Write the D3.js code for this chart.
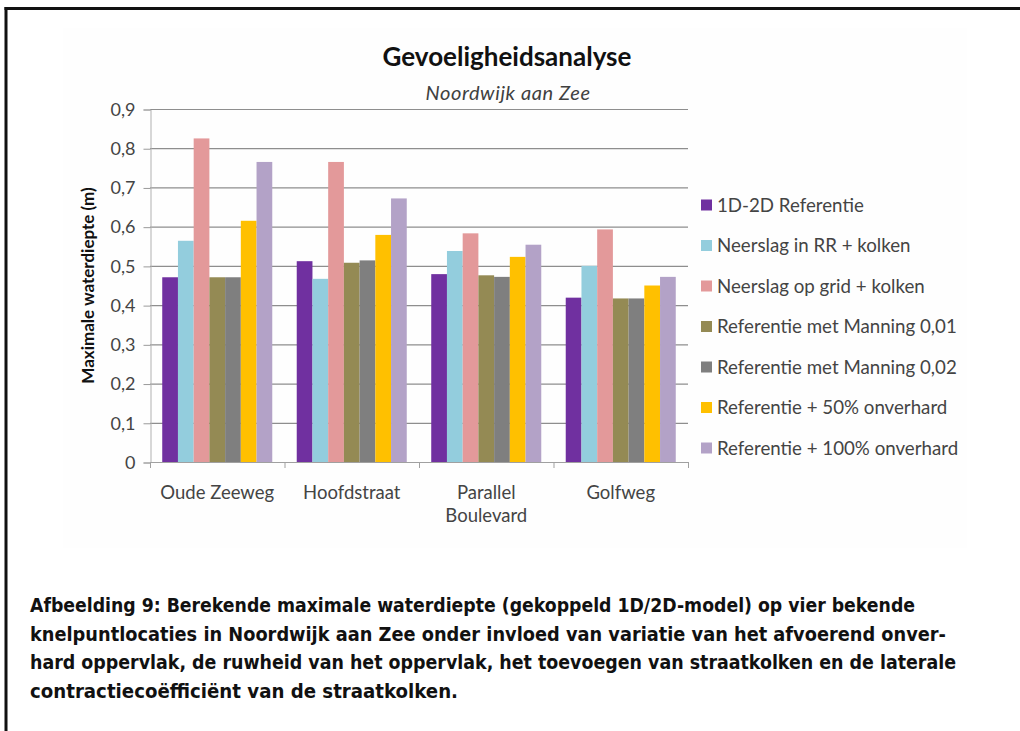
<!DOCTYPE html>
<html>
<head>
<meta charset="utf-8">
<script src="https://d3js.org/d3.v7.min.js"></script>
<style>
  body { margin: 0; background: #fff; }
  svg { display: block; }
</style>
</head>
<body>
<div id="chart"></div>
<script>
var categories = ["Oude Zeeweg", "Hoofdstraat", "Parallel Boulevard", "Golfweg"];
var seriesNames = [
    "1D-2D Referentie",
    "Neerslag in RR + kolken",
    "Neerslag op grid + kolken",
    "Referentie met Manning 0,01",
    "Referentie met Manning 0,02",
    "Referentie + 50% onverhard",
    "Referentie + 100% onverhard"
];
var seriesColors = ["#7030a0", "#93cddd", "#e3999a", "#948a54", "#7f7f7f", "#ffc000", "#b3a2c7"];
// one array per series, values per category
var ref1d2d   = [0.471, 0.512, 0.479, 0.419];
var rrKolken  = [0.564, 0.467, 0.538, 0.500];
var gridKolk  = [0.825, 0.765, 0.583, 0.593];
var manning01 = [0.471, 0.508, 0.476, 0.417];
var manning02 = [0.471, 0.514, 0.472, 0.417];
var onverh50  = [0.615, 0.579, 0.523, 0.450];
var onverh100 = [0.765, 0.672, 0.554, 0.472];
var seriesValues = [ref1d2d, rrKolken, gridKolk, manning01, manning02, onverh50, onverh100];
var yTicks = [0, 0.1, 0.2, 0.3, 0.4, 0.5, 0.6, 0.7, 0.8, 0.9];
var captionLines = [
    "Afbeelding 9: Berekende maximale waterdiepte (gekoppeld 1D/2D-model) op vier bekende",
    "knelpuntlocaties in Noordwijk aan Zee onder invloed van variatie van het afvoerend onver-",
    "hard oppervlak, de ruwheid van het oppervlak, het toevoegen van straatkolken en de laterale",
    "contractiecoëfficiënt van de straatkolken."
];
var captionWidths = [885, 916, 926, 428];

var W = 1020, H = 731;
var font = "Lato, 'Open Sans', sans-serif";
var svg = d3.select("#chart").append("svg")
    .attr("width", W)
    .attr("height", H);

svg.append("rect").attr("width", W).attr("height", H).attr("fill", "#fff");

// pasted chart area is a hair off-white
svg.append("rect")
    .attr("x", 63).attr("y", 28)
    .attr("width", 904).attr("height", 520)
    .attr("fill", "#fefefe");

// frame (only top and left edge are visible)
svg.append("line")
    .attr("x1", 4.5).attr("x2", W).attr("y1", 8.5).attr("y2", 8.5)
    .attr("stroke", "#111").attr("stroke-width", 3);
svg.append("line")
    .attr("x1", 6).attr("x2", 6).attr("y1", 7).attr("y2", H)
    .attr("stroke", "#111").attr("stroke-width", 3);

var plotLeft = 150, plotRight = 688, plotTop = 109, plotBottom = 462;

var x0 = d3.scaleBand()
    .domain(categories)
    .range([plotLeft, plotRight])
    .paddingInner(0.182)
    .paddingOuter(0.091);
var x1 = d3.scaleBand()
    .domain(d3.range(seriesNames.length))
    .range([0, x0.bandwidth()]);
var y = d3.scaleLinear().domain([0, 0.9]).range([plotBottom, plotTop]);

// gridlines
svg.append("g").selectAll("line")
    .data(yTicks.filter(function(d) { return d > 0; }))
    .join("line")
    .attr("x1", plotLeft).attr("x2", plotRight)
    .attr("y1", function(d) { return y(d) + 0.5; })
    .attr("y2", function(d) { return y(d) + 0.5; })
    .attr("stroke", "#8e8e8e")
    .attr("stroke-width", 1.2);

// y axis
var yAxis = d3.axisLeft(y)
    .tickValues(yTicks)
    .tickSize(7)
    .tickPadding(8)
    .tickFormat(function(d) { return d === 0 ? "0" : d3.format(".1f")(d).replace(".", ","); });
var gy = svg.append("g")
    .attr("transform", "translate(" + (plotLeft + 0.5) + ",0.5)")
    .call(yAxis);
gy.select(".domain").attr("stroke", "#b0b0b0");
gy.selectAll(".tick line").attr("stroke", "#9a9a9a");
gy.selectAll(".tick text")
    .attr("font-family", font)
    .attr("font-size", 18)
    .attr("fill", "#444");

// x axis: ticks between categories
svg.append("line")
    .attr("x1", plotLeft).attr("x2", plotRight)
    .attr("y1", plotBottom + 0.5).attr("y2", plotBottom + 0.5)
    .attr("stroke", "#a0a0a0");
var step = x0.step();
svg.append("g").selectAll("line")
    .data(d3.range(categories.length + 1))
    .join("line")
    .attr("x1", function(i) { return plotLeft + i * step + 0.5; })
    .attr("x2", function(i) { return plotLeft + i * step + 0.5; })
    .attr("y1", plotBottom).attr("y2", plotBottom + 6)
    .attr("stroke", "#a0a0a0");

// bars
var groups = svg.append("g").selectAll("g")
    .data(categories)
    .join("g")
    .attr("transform", function(d) { return "translate(" + x0(d) + ",0)"; });
groups.selectAll("rect")
    .data(function(d, ci) {
        return seriesValues.map(function(vals, si) { return { s: si, v: vals[ci] }; });
    })
    .join("rect")
    .attr("x", function(d) { return x1(d.s); })
    .attr("width", x1.bandwidth())
    .attr("y", function(d) { return y(d.v); })
    .attr("height", function(d) { return plotBottom - y(d.v); })
    .attr("fill", function(d) { return seriesColors[d.s]; });

// category labels, long name wraps on two lines
svg.append("g").selectAll("text")
    .data(categories)
    .join("text")
    .attr("x", function(d) { return x0(d) + x0.bandwidth() / 2; })
    .attr("y", 499)
    .attr("text-anchor", "middle")
    .attr("font-family", font)
    .attr("font-size", 18.5)
    .attr("fill", "#444")
    .each(function(d) {
        var words = d === "Parallel Boulevard" ? ["Parallel", "Boulevard"] : [d];
        var t = d3.select(this);
        words.forEach(function(w, i) {
            t.append("tspan")
                .attr("x", t.attr("x"))
                .attr("dy", i === 0 ? 0 : 23)
                .text(w);
        });
    });

// y axis title
svg.append("text")
    .attr("transform", "translate(94," + ((plotTop + plotBottom) / 2) + ") rotate(-90)")
    .attr("text-anchor", "middle")
    .attr("font-family", font)
    .attr("font-weight", "bold")
    .attr("font-size", 17)
    .attr("fill", "#111")
    .text("Maximale waterdiepte (m)");

// titles
svg.append("text")
    .attr("x", 507).attr("y", 66)
    .attr("text-anchor", "middle")
    .attr("font-family", font)
    .attr("font-weight", "bold")
    .attr("font-size", 26)
    .attr("fill", "#111")
    .text("Gevoeligheidsanalyse");
svg.append("text")
    .attr("x", 508).attr("y", 100)
    .attr("text-anchor", "middle")
    .attr("font-family", font)
    .attr("font-style", "italic")
    .attr("font-size", 20)
    .attr("letter-spacing", 0.6)
    .attr("fill", "#404040")
    .text("Noordwijk aan Zee");

// legend
var legend = svg.append("g").selectAll("g")
    .data(seriesNames)
    .join("g")
    .attr("transform", function(d, i) { return "translate(701," + (205 + i * 40.5) + ")"; });
legend.append("rect")
    .attr("x", 0).attr("y", -5.5)
    .attr("width", 11).attr("height", 11)
    .attr("fill", function(d, i) { return seriesColors[i]; });
legend.append("text")
    .attr("x", 16).attr("y", 0)
    .attr("dy", "0.35em")
    .attr("font-family", font)
    .attr("font-size", 18.7)
    .attr("fill", "#444")
    .text(function(d) { return d; });

// caption
svg.append("g").selectAll("text")
    .data(captionLines)
    .join("text")
    .attr("x", 30)
    .attr("y", function(d, i) { return 612 + i * 28.7; })
    .attr("font-family", "'DejaVu Sans Condensed', 'DejaVu Sans', sans-serif")
    .attr("font-stretch", "condensed")
    .attr("font-weight", "bold")
    .attr("font-size", 19.5)
    .attr("textLength", function(d, i) { return captionWidths[i]; })
    .attr("lengthAdjust", "spacingAndGlyphs")
    .attr("fill", "#111")
    .text(function(d) { return d; });
</script>
</body>
</html>
